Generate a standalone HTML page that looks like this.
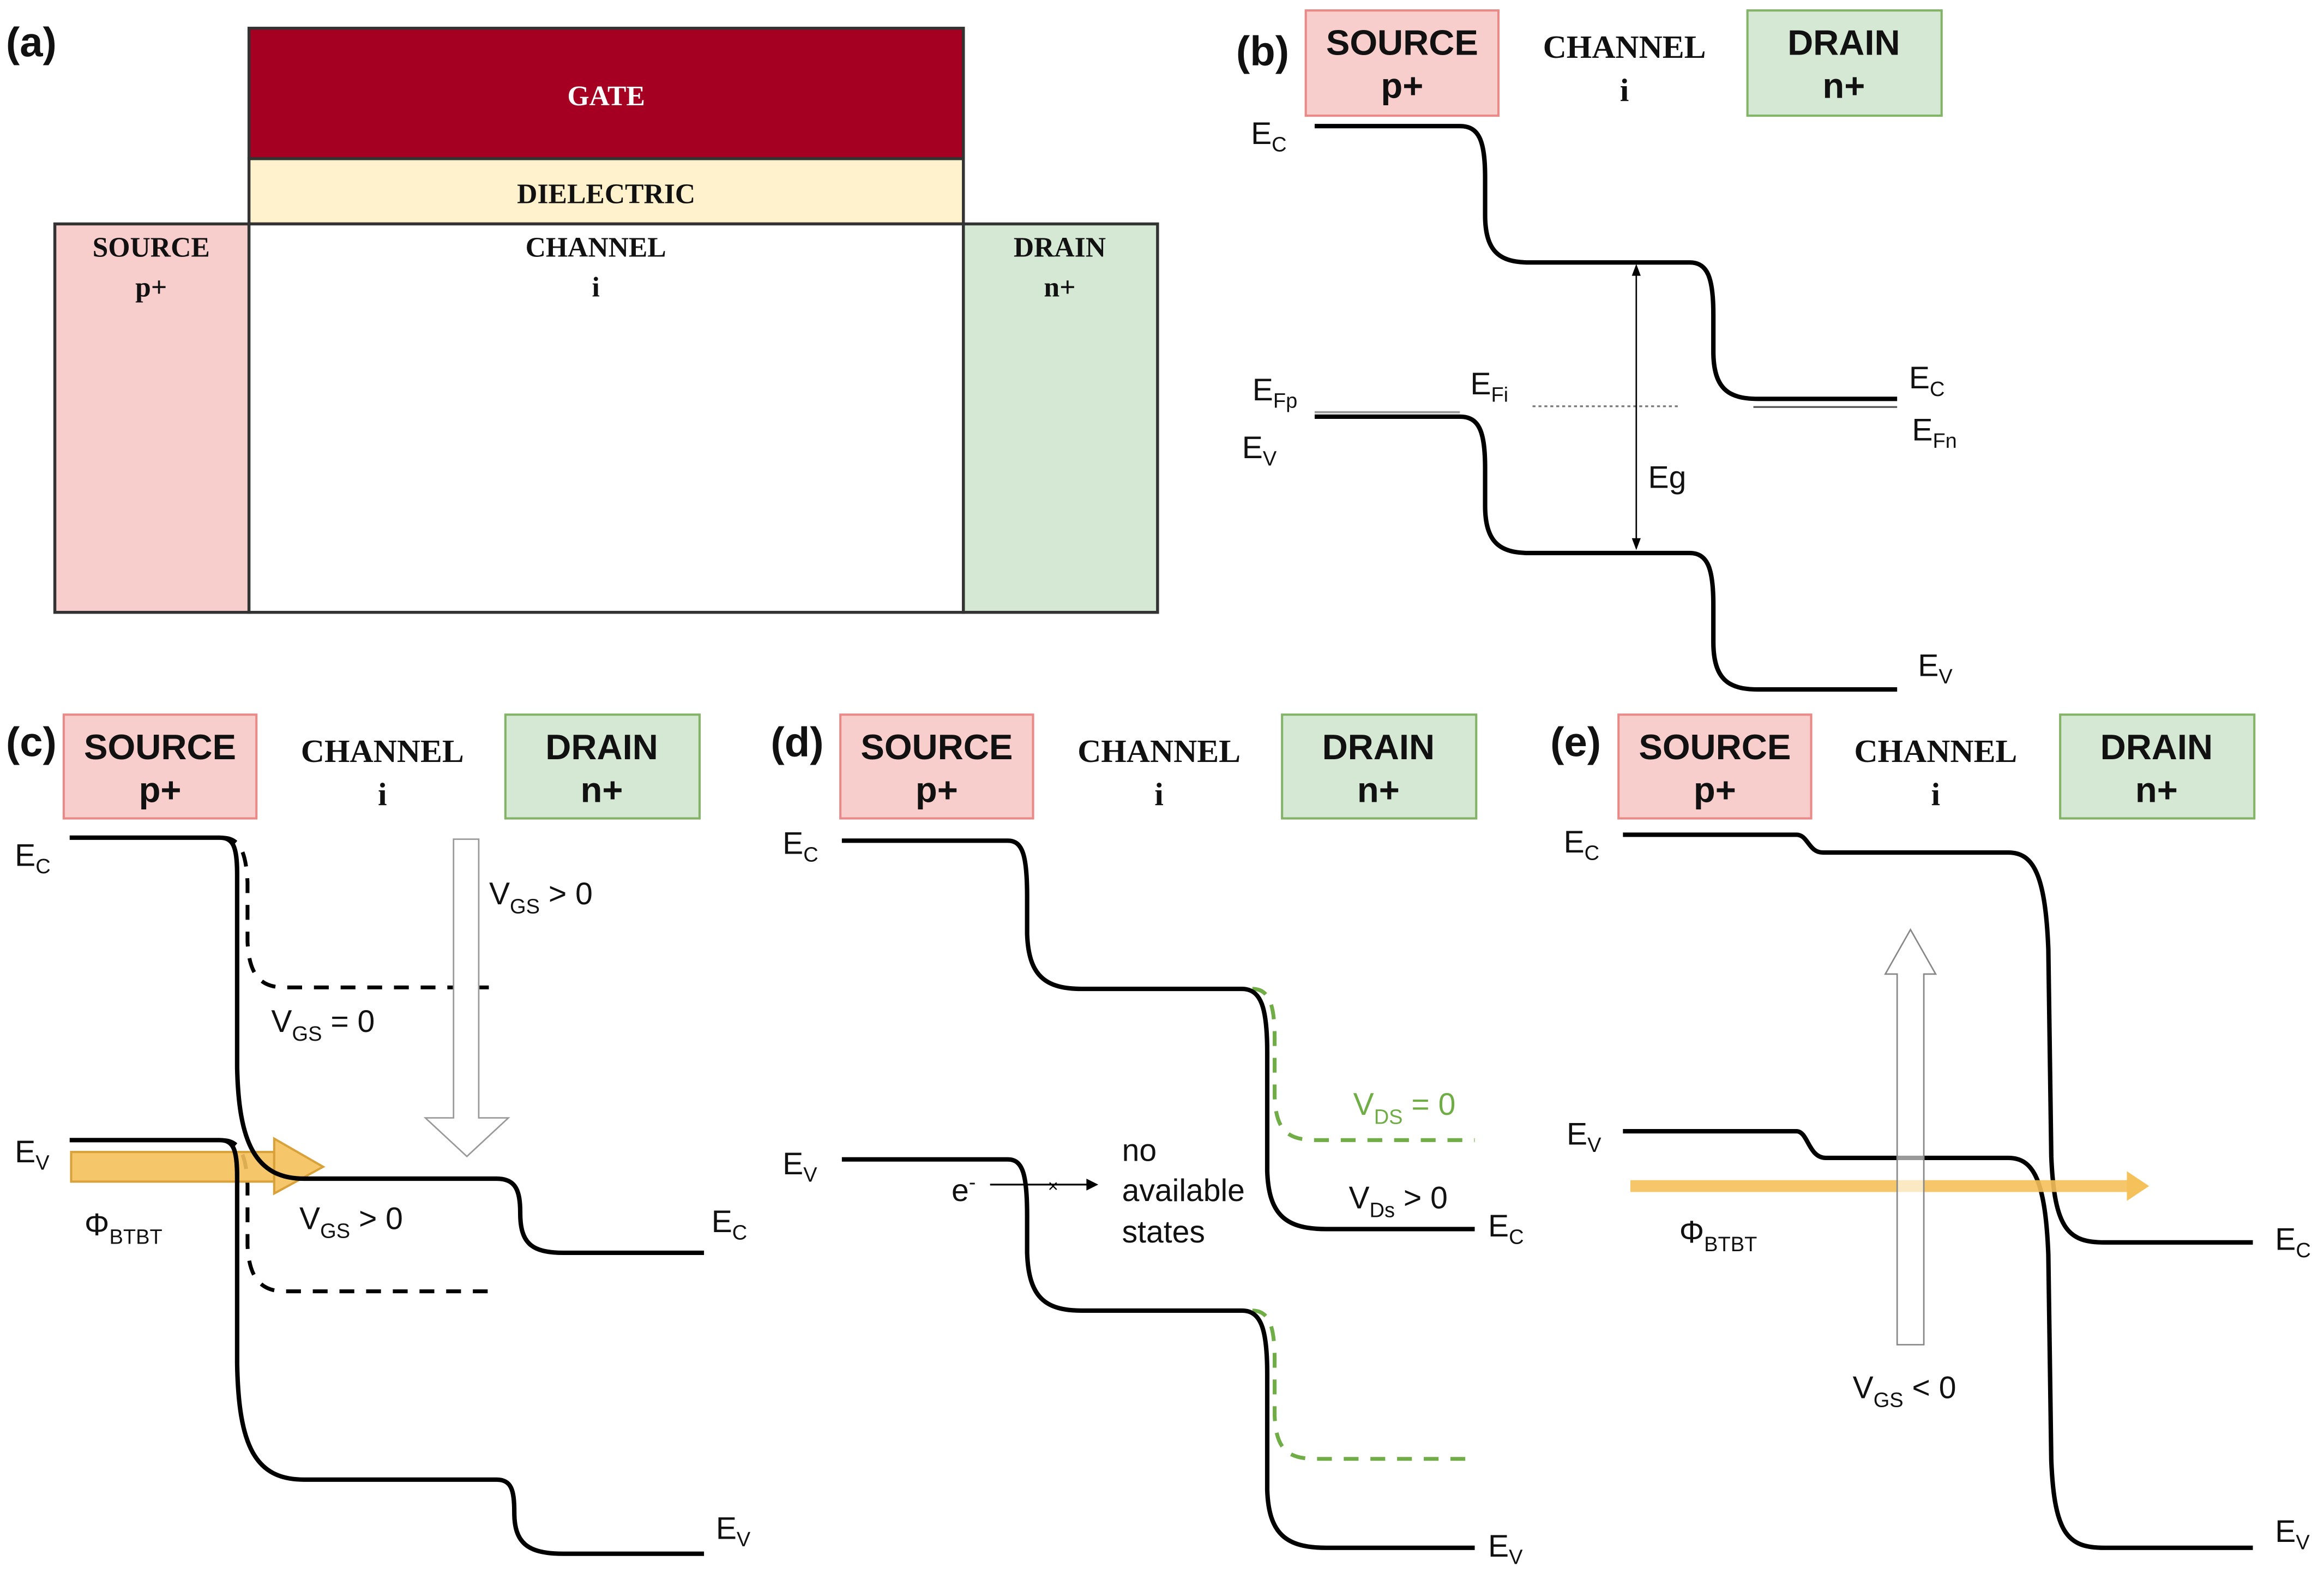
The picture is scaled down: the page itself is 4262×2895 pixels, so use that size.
<!DOCTYPE html>
<html><head><meta charset="utf-8"><style>
html,body{margin:0;padding:0;background:#fff}
svg{display:block}
.lb{font-family:"Liberation Sans",sans-serif;font-weight:bold;font-size:24px;fill:#111}
.pl{font-family:"Liberation Sans",sans-serif;font-weight:bold;font-size:28px;fill:#111}
.ch{font-family:"Liberation Serif",serif;font-weight:bold;font-size:22px;fill:#111}
.t{font-family:"Liberation Sans",sans-serif;font-size:21px;fill:#111}
.s{font-size:14px}
.k{fill:none;stroke:#000;stroke-width:3}
.d{fill:none;stroke:#000;stroke-width:2.6;stroke-dasharray:10 8}
.g{fill:none;stroke:#70ad47;stroke-width:2.6;stroke-dasharray:10 8}
</style></head><body>
<svg width="4262" height="2895" viewBox="0 0 1568 1065" xmlns="http://www.w3.org/2000/svg">
<rect width="1568" height="1065" fill="#fff"/>
<!-- (a) -->
<text x="4" y="38" class="pl">(a)</text>
<rect x="168" y="19" width="482" height="88" fill="#a50021" stroke="#333" stroke-width="2"/>
<rect x="168" y="107" width="482" height="44" fill="#fff2cc" stroke="#333" stroke-width="2"/>
<rect x="37" y="151" width="131" height="262" fill="#f8cecc" stroke="#333" stroke-width="2"/>
<rect x="168" y="151" width="482" height="262" fill="#fff" stroke="#333" stroke-width="2"/>
<rect x="650" y="151" width="131" height="262" fill="#d5e8d4" stroke="#333" stroke-width="2"/>
<g font-family="Liberation Serif, serif" font-weight="bold" font-size="19" text-anchor="middle">
<text x="409" y="71" fill="#fff">GATE</text>
<text x="409" y="137" fill="#111">DIELECTRIC</text>
<text x="102" y="173" fill="#111">SOURCE</text><text x="102" y="200" fill="#111">p+</text>
<text x="402" y="173" fill="#111">CHANNEL</text><text x="402" y="200" fill="#111">i</text>
<text x="715" y="173" fill="#111">DRAIN</text><text x="715" y="200" fill="#111">n+</text>
</g>

<!-- header boxes -->
<g text-anchor="middle">
<!-- b -->
<rect x="881" y="7" width="130" height="71" fill="#f8cecc" stroke="#ea8a88" stroke-width="1.5"/>
<text x="946" y="37" class="lb">SOURCE</text><text x="946" y="66" class="lb">p+</text>
<text x="1096" y="39" class="ch">CHANNEL</text><text x="1096" y="68" class="ch">i</text>
<rect x="1179" y="7" width="131" height="71" fill="#d5e8d4" stroke="#82b366" stroke-width="1.5"/>
<text x="1244" y="37" class="lb">DRAIN</text><text x="1244" y="66" class="lb">n+</text>
<!-- c -->
<rect x="43" y="482" width="130" height="70" fill="#f8cecc" stroke="#ea8a88" stroke-width="1.5"/>
<text x="108" y="512" class="lb">SOURCE</text><text x="108" y="541" class="lb">p+</text>
<text x="258" y="514" class="ch">CHANNEL</text><text x="258" y="543" class="ch">i</text>
<rect x="341" y="482" width="131" height="70" fill="#d5e8d4" stroke="#82b366" stroke-width="1.5"/>
<text x="406" y="512" class="lb">DRAIN</text><text x="406" y="541" class="lb">n+</text>
<!-- d -->
<rect x="567" y="482" width="130" height="70" fill="#f8cecc" stroke="#ea8a88" stroke-width="1.5"/>
<text x="632" y="512" class="lb">SOURCE</text><text x="632" y="541" class="lb">p+</text>
<text x="782" y="514" class="ch">CHANNEL</text><text x="782" y="543" class="ch">i</text>
<rect x="865" y="482" width="131" height="70" fill="#d5e8d4" stroke="#82b366" stroke-width="1.5"/>
<text x="930" y="512" class="lb">DRAIN</text><text x="930" y="541" class="lb">n+</text>
<!-- e -->
<rect x="1092" y="482" width="130" height="70" fill="#f8cecc" stroke="#ea8a88" stroke-width="1.5"/>
<text x="1157" y="512" class="lb">SOURCE</text><text x="1157" y="541" class="lb">p+</text>
<text x="1306" y="514" class="ch">CHANNEL</text><text x="1306" y="543" class="ch">i</text>
<rect x="1390" y="482" width="131" height="70" fill="#d5e8d4" stroke="#82b366" stroke-width="1.5"/>
<text x="1455" y="512" class="lb">DRAIN</text><text x="1455" y="541" class="lb">n+</text>
</g>
<text x="834" y="44" class="pl">(b)</text>
<text x="4" y="510" class="pl">(c)</text>
<text x="520" y="510" class="pl">(d)</text>
<text x="1046" y="510" class="pl">(e)</text>

<!-- (b) bands -->
<path class="k" d="M887 85 H985 C998 85 1002 95 1002 120 V145 C1002 170 1012 177 1032 177 H1140 C1152 177 1156 187 1156 212 V237 C1156 262 1166 269 1186 269 H1280"/>
<path class="k" d="M887 281 H985 C998 281 1002 291 1002 316 V341 C1002 366 1012 373 1032 373 H1140 C1152 373 1156 383 1156 408 V433 C1156 458 1166 465 1186 465 H1280"/>
<line x1="887" y1="278" x2="985" y2="278" stroke="#999" stroke-width="1.5"/>
<line x1="1183" y1="274.5" x2="1280" y2="274.5" stroke="#555" stroke-width="1.2"/>
<line x1="1034" y1="274" x2="1132" y2="274" stroke="#777" stroke-width="1.2" stroke-dasharray="2 2"/>
<line x1="1104" y1="183" x2="1104" y2="366" stroke="#000" stroke-width="1"/>
<path d="M1104 178 L1101 186 L1107 186Z M1104 371 L1101 363 L1107 363Z" fill="#000"/>
<text x="1112" y="329" class="t">Eg</text>
<text x="844" y="97" class="t">E<tspan class="s" dy="5">C</tspan></text>
<text x="845" y="270" class="t">E<tspan class="s" dy="5">Fp</tspan></text>
<text x="838" y="309" class="t">E<tspan class="s" dy="5">V</tspan></text>
<text x="992" y="266" class="t">E<tspan class="s" dy="5">Fi</tspan></text>
<text x="1288" y="262" class="t">E<tspan class="s" dy="5">C</tspan></text>
<text x="1290" y="297" class="t">E<tspan class="s" dy="5">Fn</tspan></text>
<text x="1294" y="456" class="t">E<tspan class="s" dy="5">V</tspan></text>

<!-- (c) -->
<path class="d" d="M150 565 C162 565 166 575 167 595 V635 C168 658 176 666 192 666 H330"/>
<path class="d" d="M150 769 C162 769 166 779 167 799 V840 C168 862 176 871 192 871 H330"/>
<rect x="48" y="777" width="137" height="20" fill="#f4c15a" fill-opacity="0.9" stroke="#d9a13a" stroke-width="1.5"/>
<path d="M185 768 L218 787 L185 805Z" fill="#f4c15a" fill-opacity="0.9" stroke="#d9a13a" stroke-width="1.5"/>
<path class="k" d="M47 565 H148 C157 565 160 570 160 590 V720 C161 770 172 795 205 795 H335 C348 795 351 803 351 818 C351 838 358 845 380 845 H475"/>
<path class="k" d="M47 769 H148 C157 769 160 774 160 794 V920 C161 975 172 998 205 998 H335 C345 998 347 1005 347 1020 C347 1040 355 1048 380 1048 H475"/>
<path d="M306 566 H323 V754 H343 L315 780 L287 754 H306Z" fill="#fff" stroke="#999" stroke-width="1"/>
<text x="330" y="610" class="t">V<tspan class="s" dy="6">GS</tspan><tspan dy="-6"> &gt; 0</tspan></text>
<text x="183" y="696" class="t">V<tspan class="s" dy="6">GS</tspan><tspan dy="-6"> = 0</tspan></text>
<text x="202" y="829" class="t">V<tspan class="s" dy="6">GS</tspan><tspan dy="-6"> &gt; 0</tspan></text>
<text x="57" y="833" class="t">Φ<tspan class="s" dy="6">BTBT</tspan></text>
<text x="10" y="584" class="t">E<tspan class="s" dy="5">C</tspan></text>
<text x="10" y="784" class="t">E<tspan class="s" dy="5">V</tspan></text>
<text x="480" y="831" class="t">E<tspan class="s" dy="5">C</tspan></text>
<text x="483" y="1038" class="t">E<tspan class="s" dy="5">V</tspan></text>

<!-- (d) -->
<path class="g" d="M845 667 C856 667 860 677 860 700 V740 C861 762 868 769 888 769 H995"/>
<path class="g" d="M845 884 C856 884 860 894 860 917 V955 C861 977 868 984 888 984 H995"/>
<path class="k" d="M568 567 H680 C690 567 693 577 693 605 V630 C694 658 705 667 730 667 H838 C851 667 855 680 855 710 V790 C856 820 868 829 895 829 H995"/>
<path class="k" d="M568 782 H680 C690 782 693 792 693 820 V845 C694 875 705 884 730 884 H838 C851 884 855 897 855 927 V1005 C856 1035 868 1044 895 1044 H995"/>
<line x1="668" y1="799" x2="735" y2="799" stroke="#000" stroke-width="1.2"/>
<path d="M741 799 L733 795 L733 803Z" fill="#000"/>
<text x="707" y="804" font-family="Liberation Sans" font-size="12">×</text>
<text x="642" y="810" class="t" font-size="19">e<tspan class="s" dy="-8">-</tspan></text>
<text x="757" y="783" class="t" font-size="19">no</text>
<text x="757" y="810" class="t" font-size="19">available</text>
<text x="757" y="838" class="t" font-size="19">states</text>
<text x="913" y="752" class="t" fill="#70ad47" style="fill:#70ad47">V<tspan class="s" dy="6">DS</tspan><tspan dy="-6"> = 0</tspan></text>
<text x="910" y="815" class="t">V<tspan class="s" dy="6">Ds</tspan><tspan dy="-6"> &gt; 0</tspan></text>
<text x="528" y="576" class="t">E<tspan class="s" dy="5">C</tspan></text>
<text x="528" y="792" class="t">E<tspan class="s" dy="5">V</tspan></text>
<text x="1004" y="834" class="t">E<tspan class="s" dy="5">C</tspan></text>
<text x="1004" y="1050" class="t">E<tspan class="s" dy="5">V</tspan></text>

<!-- (e) -->
<path class="k" d="M1095 563 H1212 C1220 563 1220 575 1230 575 H1355 C1372 575 1380 590 1382 640 L1384 780 C1386 830 1396 838 1420 838 H1520"/>
<path class="k" d="M1095 763 H1212 C1220 763 1220 781 1232 781 H1355 C1372 781 1380 796 1382 846 L1384 985 C1386 1036 1396 1044 1420 1044 H1520"/>
<rect x="1100" y="796" width="335" height="8" fill="#f4c15a" fill-opacity="0.9"/>
<path d="M1435 790 L1450 800 L1435 810Z" fill="#f4c15a"/>
<path d="M1280 907 V657 H1272 L1289 627 L1306 657 H1298 V907Z" fill="#fff" fill-opacity="0.6" stroke="#888" stroke-width="1"/>
<text x="1250" y="943" class="t">V<tspan class="s" dy="6">GS</tspan><tspan dy="-6"> &lt; 0</tspan></text>
<text x="1133" y="838" class="t">Φ<tspan class="s" dy="6">BTBT</tspan></text>
<text x="1055" y="575" class="t">E<tspan class="s" dy="5">C</tspan></text>
<text x="1057" y="772" class="t">E<tspan class="s" dy="5">V</tspan></text>
<text x="1535" y="843" class="t">E<tspan class="s" dy="5">C</tspan></text>
<text x="1535" y="1040" class="t">E<tspan class="s" dy="5">V</tspan></text>
</svg>
</body></html>
